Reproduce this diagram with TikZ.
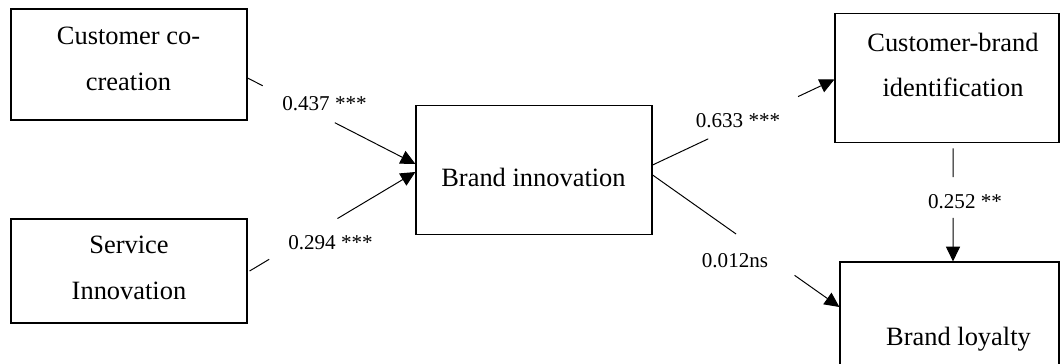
\documentclass[tikz,border=0pt]{standalone}
\usepackage{fontspec}
\setmainfont{Liberation Serif}
\usetikzlibrary{arrows.meta, calc}

\begin{document}
\begin{tikzpicture}[
    x=0.025cm, y=-0.025cm,
    construct/.style={rectangle, draw, line width=0.8pt, inner sep=0pt},
    boxtext/.style={align=center, inner sep=0pt, font=\fontsize{18.8}{32.6}\selectfont},
    coef/.style={anchor=base, inner sep=0pt, font=\fontsize{15}{18}\selectfont},
    link/.style={line width=0.7pt},
    arrow/.style={link, -{Triangle[length=10.5pt, width=10pt]}}
]
\clip (0,0) rectangle (1060,363);

% Antecedents
\node[construct, minimum width=5.9cm, minimum height=2.775cm] (cocreation) at (129,64.5) {};
\node[boxtext] (cocreation-txt) at (128.5,58.5) {Customer co-\\creation};
\node[construct, minimum width=5.9cm, minimum height=2.6cm] (service) at (129,271) {};
\node[boxtext] (service-txt) at (129,267.5) {Service\\Innovation};

% Mediator
\node[construct, minimum width=5.9cm, minimum height=3.225cm] (innovation) at (534,170) {};
\node[boxtext, anchor=base] (innovation-txt) at (533.5,186.7) {Brand innovation};

% Outcomes
\node[construct, minimum width=5.6cm, minimum height=3.24cm] (identification) at (947,78) {};
\node[boxtext] (identification-txt) at (953,65) {Customer-brand\\identification};
\node[construct, minimum width=5.475cm, minimum height=3.25cm] (loyalty) at (949.5,327) {};
\node[boxtext, anchor=base] (loyalty-txt) at (958.5,345) {Brand loyalty};

% End points of the paths
\coordinate (s1) at ($(cocreation.east)+(0,13.5)$);
\coordinate (t1) at ($(innovation.west)+(0,-6)$);
\coordinate (s2) at ($(service.east)+(2,0)$);
\coordinate (t2) at ($(innovation.west)+(0,2)$);
\coordinate (s3) at ($(innovation.east)+(0,-5)$);
\coordinate (t3) at ($(identification.west)+(0,1.5)$);
\coordinate (s4) at ($(innovation.east)+(0,5)$);
\coordinate (t4) at ($(loyalty.west)+(0,-20)$);
\coordinate (s5) at ($(identification.south)+(6,5)$);
\coordinate (t5) at (s5 |- loyalty.north);

% Paths, broken where the coefficients sit
\draw[link] (s1) -- ($(s1)!0.09!(t1)$);
\draw[arrow] ($(s1)!0.52!(t1)$) -- (t1);
\draw[link] (s2) -- ($(s2)!0.118!(t2)$);
\draw[arrow] ($(s2)!0.53!(t2)$) -- (t2);
\draw[link] (s3) -- ($(s3)!0.306!(t3)$);
\draw[arrow] ($(s3)!0.80!(t3)$) -- (t3);
\draw[link] (s4) -- ($(s4)!0.447!(t4)$);
\draw[arrow] ($(s4)!0.76!(t4)$) -- (t4);
\draw[link] (s5) -- ($(s5)!0.254!(t5)$);
\draw[arrow] ($(s5)!0.615!(t5)$) -- (t5);

% Coefficients
\node[coef] (c1) at (324.5,110) {0.437 ***};
\node[coef] (c2) at (330.5,249) {0.294 ***};
\node[coef] (c3) at (738,127) {0.633 ***};
\node[coef] (c4) at (735,267) {0.012ns};
\node[coef] (c5) at (965,208) {0.252 **};

\end{tikzpicture}
\end{document}
